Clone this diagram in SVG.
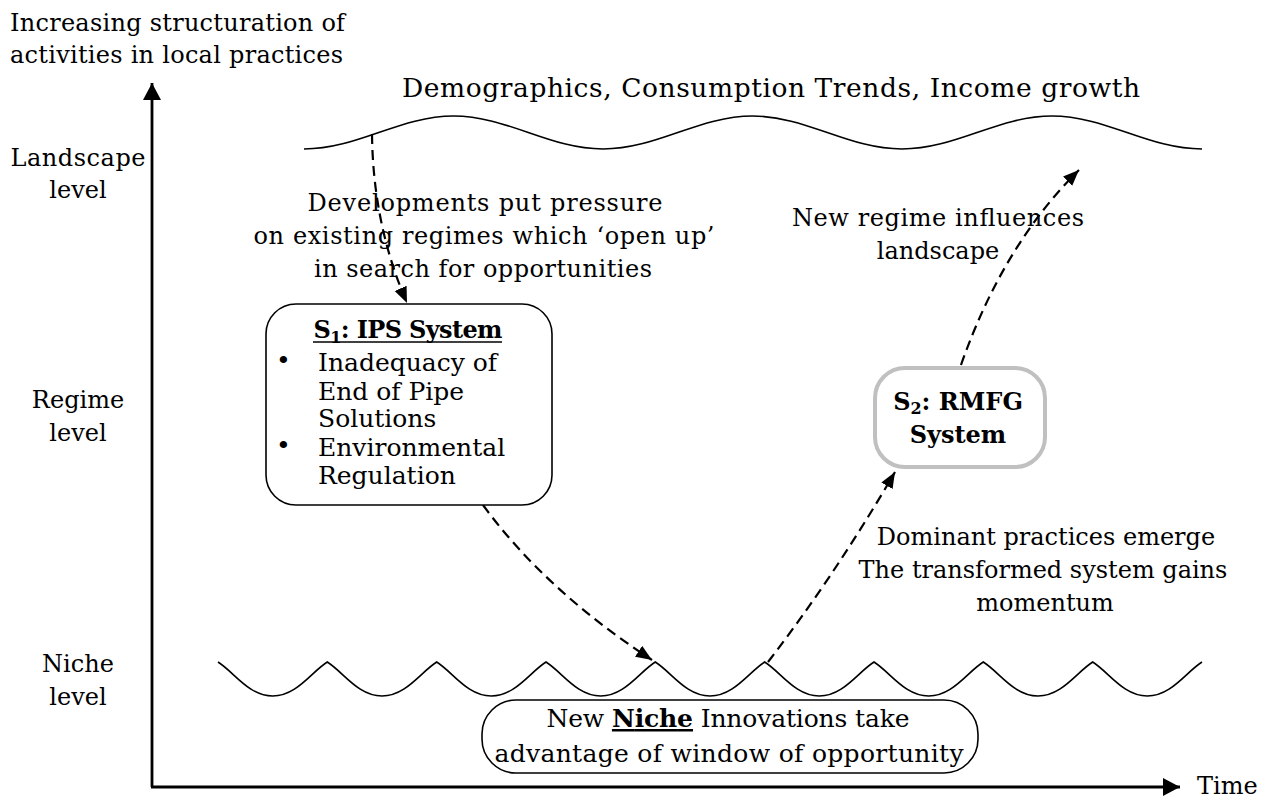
<svg xmlns="http://www.w3.org/2000/svg" width="1278" height="801" viewBox="0 0 1278 801">
  <defs>
    <style>
      text { font-family: "DejaVu Serif", "Liberation Serif", serif; font-size: 24px; fill: #000; }
      .mid { text-anchor: middle; }
      .bold { font-weight: bold; }
      .inbox { font-size: 25px; }
      .big { font-size: 26.5px; }
      .box { fill: #fff; stroke: #000; stroke-width: 1.6; }
      .wave { fill: none; stroke: #000; stroke-width: 1.6; }
      .axis { fill: none; stroke: #000; stroke-width: 2.8; }
      .flow { fill: none; stroke: #000; stroke-width: 2.2; stroke-dasharray: 10 6; }
    </style>
    <marker id="axisHead" markerUnits="userSpaceOnUse" markerWidth="18" markerHeight="18" refX="17" refY="9" orient="auto">
      <path d="M0,0 L17,9 L0,18 z" fill="#000"/>
    </marker>
    <marker id="flowHead" markerUnits="userSpaceOnUse" markerWidth="17" markerHeight="14" refX="16" refY="6.5" orient="auto">
      <path d="M0,0 L16,6.5 L0,13 z" fill="#000"/>
    </marker>
  </defs>

  <rect width="1278" height="801" fill="#fff"/>

  <!-- axes -->
  <g id="axes">
    <line class="axis" x1="152" y1="787" x2="152" y2="83" marker-end="url(#axisHead)"/>
    <line class="axis" x1="151" y1="787" x2="1180" y2="787" marker-end="url(#axisHead)"/>
    <text x="10" y="31" textLength="335" lengthAdjust="spacing">Increasing structuration of</text>
    <text x="10" y="63" textLength="333" lengthAdjust="spacing">activities in local practices</text>
    <text x="1197" y="794">Time</text>
  </g>

  <!-- level labels -->
  <g id="levels">
    <text class="mid" x="78" y="166" textLength="135" lengthAdjust="spacing">Landscape</text>
    <text class="mid" x="78" y="198">level</text>
    <text class="mid" x="78" y="408">Regime</text>
    <text class="mid" x="78" y="441">level</text>
    <text class="mid" x="78" y="672">Niche</text>
    <text class="mid" x="78" y="705">level</text>
  </g>

  <!-- landscape wave -->
  <g id="landscape">
    <path class="wave" d="M304,149 C358,149 399.5,116 453.5,116 C507.5,116 549,149 603,149 C657,149 698.5,116 752.5,116 C806.5,116 848,149 902,149 C956,149 998,116 1052,116 C1106,116 1148,149 1202,149"/>
    <text class="big" x="402" y="97" textLength="738" lengthAdjust="spacing">Demographics, Consumption Trends, Income growth</text>
  </g>

  <!-- niche wave -->
  <g id="niche-wave">
    <path class="wave" d="M218,662 C234,672 248.7,696 272.7,696 C296.7,696 311.3,672 327.3,662 C343.3,672 358,696 382,696 C406,696 420.7,672 436.7,662 C452.7,672 467.3,696 491.3,696 C515.3,696 530,672 546,662 C562,672 576.7,696 600.7,696 C624.7,696 639.3,672 655.3,662 C671.3,672 686,696 710,696 C734,696 748.7,672 764.7,662 C780.7,672 795.3,696 819.3,696 C843.3,696 858,672 874,662 C890,672 904.7,696 928.7,696 C952.7,696 967.3,672 983.3,662 C999.3,672 1014,696 1038,696 C1062,696 1076.7,672 1092.7,662 C1108.7,672 1123.3,696 1147.3,696 C1171.3,696 1186,672 1202,662"/>
  </g>

  <!-- connectors -->
  <g id="connectors">
    <path class="flow" d="M372,134 Q373,225 407,303" marker-end="url(#flowHead)"/>
    <path class="flow" d="M483,505 Q545,590 652,660" marker-end="url(#flowHead)"/>
    <path class="flow" d="M768,662 Q835,575 895,472" marker-end="url(#flowHead)"/>
    <path class="flow" d="M961,365 Q1003,245 1079,170" marker-end="url(#flowHead)"/>
  </g>

  <!-- connector labels -->
  <g id="labels">
    <text class="mid" x="485" y="211" textLength="355" lengthAdjust="spacing">Developments put pressure</text>
    <text class="mid" x="484" y="244" textLength="461" lengthAdjust="spacing">on existing regimes which ‘open up’</text>
    <text class="mid" x="483" y="277" textLength="338" lengthAdjust="spacing">in search for opportunities</text>
    <text class="mid" x="938" y="226" textLength="292" lengthAdjust="spacing">New regime influences</text>
    <text class="mid" x="938" y="259">landscape</text>
    <text class="mid" x="1046" y="545">Dominant practices emerge</text>
    <text class="mid" x="1043" y="578">The transformed system gains</text>
    <text class="mid" x="1045" y="611">momentum</text>
  </g>

  <!-- S1 regime node -->
  <g id="s1-ips">
    <rect class="box" x="266" y="304" width="286" height="201" rx="30" ry="30"/>
    <text class="mid bold" x="408" y="338" textLength="189" lengthAdjust="spacing">S<tspan font-size="16" dy="5">1</tspan><tspan dy="-5">: IPS System</tspan></text>
    <line x1="313" y1="342" x2="502" y2="342" stroke="#000" stroke-width="1.6"/>
    <text class="inbox" x="276" y="369">•</text>
    <text class="inbox" x="318" y="371">Inadequacy of</text>
    <text class="inbox" x="318" y="400">End of Pipe</text>
    <text class="inbox" x="318" y="427">Solutions</text>
    <text class="inbox" x="276" y="454">•</text>
    <text class="inbox" x="318" y="456">Environmental</text>
    <text class="inbox" x="318" y="484">Regulation</text>
  </g>

  <!-- S2 regime node -->
  <g id="s2-rmfg">
    <rect x="875" y="368" width="170" height="99" rx="30" ry="30" fill="#fff" stroke="#c0c0c0" stroke-width="4"/>
    <text class="mid bold" x="958" y="410">S<tspan font-size="16" dy="4">2</tspan><tspan dy="-4">: RMFG</tspan></text>
    <text class="mid bold" x="958" y="443">System</text>
  </g>

  <!-- niche node -->
  <g id="niche-innovations">
    <rect class="box" x="482" y="700" width="496" height="73" rx="34" ry="34"/>
    <text class="mid inbox" x="728" y="727" textLength="363" lengthAdjust="spacing">New <tspan class="bold" text-decoration="underline">Niche</tspan> Innovations take</text>
    <text class="mid inbox" x="729" y="762" textLength="469" lengthAdjust="spacing">advantage of window of opportunity</text>
  </g>
</svg>
